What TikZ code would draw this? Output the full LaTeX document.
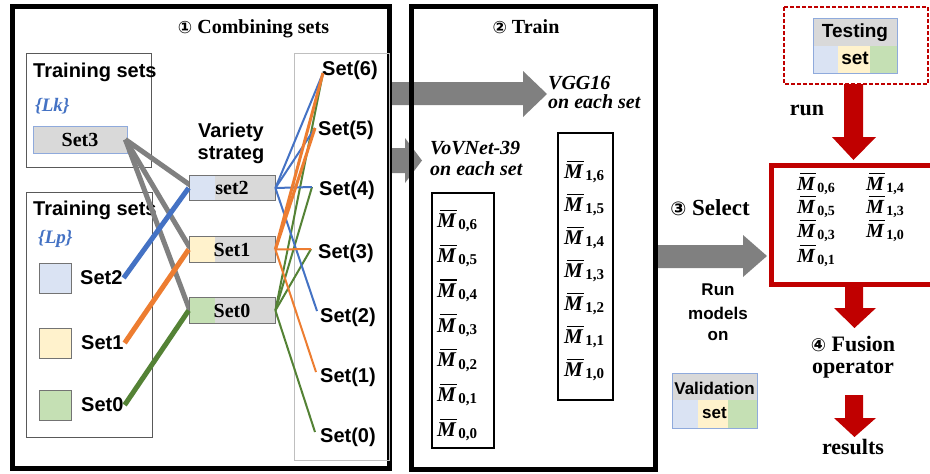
\documentclass[tikz,border=0pt]{standalone}
\usepackage{fontspec}
\setmainfont{Liberation Serif}
\setsansfont{Liberation Sans}
\newfontfamily\circfont{DejaVu Sans}
\definecolor{cblue}{HTML}{4472C4}
\definecolor{corange}{HTML}{ED7D31}
\definecolor{cgreen}{HTML}{548235}
\definecolor{lblue}{HTML}{DAE3F3}
\definecolor{lorange}{HTML}{FFF2CC}
\definecolor{lgreen}{HTML}{C5E0B4}
\definecolor{lgray}{HTML}{D9D9D9}
\definecolor{agray}{HTML}{808080}
\definecolor{cred}{HTML}{C00000}
\definecolor{bgray}{HTML}{8FAADC}
% #1 main size, #2 subscript size, #3 subscript
\newcommand{\Mb}[3]{{\fontsize{#1}{#1}\selectfont\bfseries\itshape
  \makebox[0pt][l]{\hspace{0.14em}\rule[0.8em]{0.78em}{0.06em}}M}%
  \raisebox{-0.22em}{\fontsize{#2}{#2}\selectfont\bfseries\,#3}}
\begin{document}
\begin{tikzpicture}[x=1pt,y=-1pt,
  serb/.style={font=\fontsize{#1}{#1}\selectfont\bfseries, inner sep=0},
  sanb/.style={font=\fontsize{#1}{#1}\selectfont\sffamily\bfseries, inner sep=0},
  seri/.style={font=\fontsize{#1}{#1}\selectfont\bfseries\itshape, inner sep=0},
  panel/.style={draw=black, line width=5pt},
  trainbox/.style={draw=black!65, line width=0.8pt},
  setbox/.style={draw=black!55, line width=0.8pt, fill=lgray, minimum width=86pt, minimum height=25.5pt, inner sep=0, font=\fontsize{20}{20}\selectfont\bfseries},
  leftfill/.style={path picture={\fill[#1] (path picture bounding box.south west) rectangle ([xshift=26pt]path picture bounding box.north west);}},
  sq/.style={draw=black!55, line width=0.8pt, fill=#1, minimum width=32pt, minimum height=30pt, inner sep=0},
  mentry/.style={anchor=west, inner sep=0},
  mbox/.style={draw=black, line width=1.5pt},
  gline/.style={agray, line width=5pt},
  thick/.style={line width=5pt},
  thin/.style={line width=2pt},
  garrow/.style={fill=agray},
  rarrow/.style={fill=cred},
  tri/.style={draw=bgray, line width=0.8pt}
]
\useasboundingbox (0,0) rectangle (930,474);
\fill[white] (0,0) rectangle (930,474);

% grey block arrows
\fill[garrow] (390,82) -- (523,82) -- (523,71) -- (547,94) -- (523,117) -- (523,105) -- (390,105) -- cycle;
\fill[garrow] (390,148) -- (405,148) -- (405,138) -- (422,160.5) -- (405,183) -- (405,173) -- (390,173) -- cycle;
\fill[garrow] (656,245) -- (743,245) -- (743,235) -- (767,256) -- (743,277) -- (743,268) -- (656,268) -- cycle;

% panels
\draw[panel] (12,6) rectangle (389.5,468.5);
\draw[panel] (411.5,6) rectangle (655.5,469.5);

\node[serb=20] (t1) at (253.5,29) {{\circfont\fontsize{17}{17}\selectfont ①} Combining sets};
\node[serb=20] (t2) at (526,27) {{\circfont\fontsize{17}{17}\selectfont ②} Train};

% training set boxes
\draw[trainbox] (26,53) rectangle (151,167);
\draw[trainbox] (26,192) rectangle (152,437);
\node[sanb=20, anchor=west] (tr1) at (33,72) {Training sets};
\node[seri=19, anchor=west, text=cblue] (lk) at (35,106) {\{Lk\}};
\node[setbox, draw=bgray, minimum width=94pt, minimum height=27pt] (set3) at (80,139.5) {Set3};
\node[sanb=20, anchor=west] (tr2) at (33,210) {Training sets};
\node[seri=19, anchor=west, text=cblue] (lp) at (38,239) {\{Lp\}};
\node[sq=lblue] (q2) at (55,278) {};
\node[sq=lorange] (q1) at (55,343) {};
\node[sq=lgreen] (q0) at (55,405) {};
\node[sanb=20, anchor=west] (l2) at (80,278) {Set2};
\node[sanb=20, anchor=west] (l1) at (81,343) {Set1};
\node[sanb=20, anchor=west] (l0) at (81,405) {Set0};

% variety strategy
\node[sanb=20] (v1) at (231,132) {Variety};
\node[sanb=20] (v2) at (231,155) {strateg};

% right container
\draw[black!25, line width=0.8pt] (294,53) rectangle (389,460);

% grey lines
\draw[gline] ([xshift=-2pt]set3.east) -- (190,185);
\draw[gline] ([xshift=-2pt]set3.east) -- (190,248);
\draw[gline] ([xshift=-2pt]set3.east) -- (190,311);

% combine boxes
\node[setbox, leftfill=lblue] (set2) at (232,188) {set2};
\node[setbox, leftfill=lorange] (sset1) at (232,249.5) {Set1};
\node[setbox, leftfill=lgreen] (sset0) at (232,310.5) {Set0};

% thick coloured lines
\draw[cblue, thick] ([xshift=1pt]l2.east) -- (set2.west);
\draw[corange, thick] ([xshift=1pt]l1.east) -- (sset1.west);
\draw[cgreen, thick] ([xshift=1pt]l0.east) -- (sset0.west);

% result labels
\node[sanb=20, anchor=west] (s6) at (322,70) {Set(6)};
\node[sanb=20, anchor=west] (s5) at (318,130) {Set(5)};
\node[sanb=20, anchor=west] (s4) at (319,190) {Set(4)};
\node[sanb=20, anchor=west] (s3) at (318,253) {Set(3)};
\node[sanb=20, anchor=west] (s2) at (320,317) {Set(2)};
\node[sanb=20, anchor=west] (s1) at (320,377) {Set(1)};
\node[sanb=20, anchor=west] (s0) at (320,437) {Set(0)};
\coordinate (e6) at (323,73);
\coordinate (e5) at (315,128);
\coordinate (e4) at (312,187);
\coordinate (e3) at (311,249);
\coordinate (e2) at (317,311);
\coordinate (e1) at (316,372);
\coordinate (e0) at (315,432);

% thin coloured lines
\foreach \e in {e6,e4,e3,e0} \draw[cgreen, thin] (sset0.east) -- (\e);
\foreach \e in {e6,e5,e4,e2} \draw[cblue, thin] (set2.east) -- (\e);
\foreach \e in {e3,e1} \draw[corange, thin] (sset1.east) -- (\e);
\foreach \e in {e6,e5} \draw[corange, line width=3pt] (sset1.east) -- (\e);

% Train panel
\node[seri=20, anchor=west] (vgg) at (548,83) {VGG16};
\node[seri=20, anchor=west] (vgg2) at (548,102) {on each set};
\node[seri=20, anchor=west] (vov) at (430,148) {VoVNet-39};
\node[seri=20, anchor=west] (vov2) at (430,169) {on each set};
\draw[mbox] (432,193) rectangle (494,448);
\draw[mbox] (558,133) rectangle (613,400);
\foreach \k [count=\i from 0] in {6,5,4,3,2,1,0} {
  \node[mentry] (ma\k) at (437,221+34.8*\i) {\Mb{21}{15}{0,\k}};
  \node[mentry] (mb\k) at (564,172+33*\i) {\Mb{21}{15}{1,\k}};
}

% Select
\node[serb=23] (sel) at (710,208) {{\circfont\fontsize{19}{19}\selectfont ③} Select};
\node[sanb=17] (run1) at (718,290) {Run};
\node[sanb=17] (run2) at (718,313) {models};
\node[sanb=17] (run3) at (718,336) {on};
\fill[lgray] (672,373) rectangle (757,400);
\fill[lblue] (672,400) rectangle (698,428);
\fill[lorange] (698,400) rectangle (728,428);
\fill[lgreen] (728,400) rectangle (757,428);
\node[tri, minimum width=85pt, minimum height=55pt, inner sep=0] (valb) at (714.5,400.5) {};
\node[sanb=17] (valt) at (714.5,388) {Validation};
\node[sanb=17] (vals) at (714.5,413) {set};

% Testing
\draw[cred, line width=1.3pt, dash pattern=on 4pt off 2pt] (784,7) rectangle (928,84);
\fill[lgray] (813,18) rectangle (897,45.5);
\fill[lblue] (813,45.5) rectangle (838,73);
\fill[lorange] (838,45.5) rectangle (870,73);
\fill[lgreen] (870,45.5) rectangle (897,73);
\node[tri, minimum width=84pt, minimum height=55pt, inner sep=0] (testb) at (855,45.5) {};
\node[sanb=19] (testt) at (855,33) {Testing};
\node[sanb=19] (tests) at (855,58) {set};

\node[serb=22] (runl) at (807,110) {run};
\fill[rarrow] (844,84) -- (863,84) -- (863,137) -- (876,137) -- (853.5,160) -- (832,137) -- (844,137) -- cycle;

% selected models box
\draw[cred, line width=5pt] (940,165) -- (771.5,165) -- (771.5,284.5) -- (940,284.5);
\node[mentry] (r06) at (797,184) {\Mb{20}{14}{0,6}};
\node[mentry] (r05) at (797,207) {\Mb{20}{14}{0,5}};
\node[mentry] (r03) at (797,231) {\Mb{20}{14}{0,3}};
\node[mentry] (r01) at (797,256) {\Mb{20}{14}{0,1}};
\node[mentry] (r14) at (866,184) {\Mb{20}{14}{1,4}};
\node[mentry] (r13) at (866,207) {\Mb{20}{14}{1,3}};
\node[mentry] (r10) at (866,231) {\Mb{20}{14}{1,0}};

\fill[rarrow] (845,287) -- (863,287) -- (863,308) -- (876,308) -- (854.5,328) -- (834,308) -- (845,308) -- cycle;
\node[serb=22] (fus) at (853,344) {{\circfont\fontsize{18}{18}\selectfont ④} Fusion};
\node[serb=22] (op) at (853,370) {operator};
\fill[rarrow] (845,395) -- (863,395) -- (863,418) -- (876,418) -- (854.5,437) -- (834,418) -- (845,418) -- cycle;
\node[serb=22] (res) at (853,447) {results};
\end{tikzpicture}
\end{document}
